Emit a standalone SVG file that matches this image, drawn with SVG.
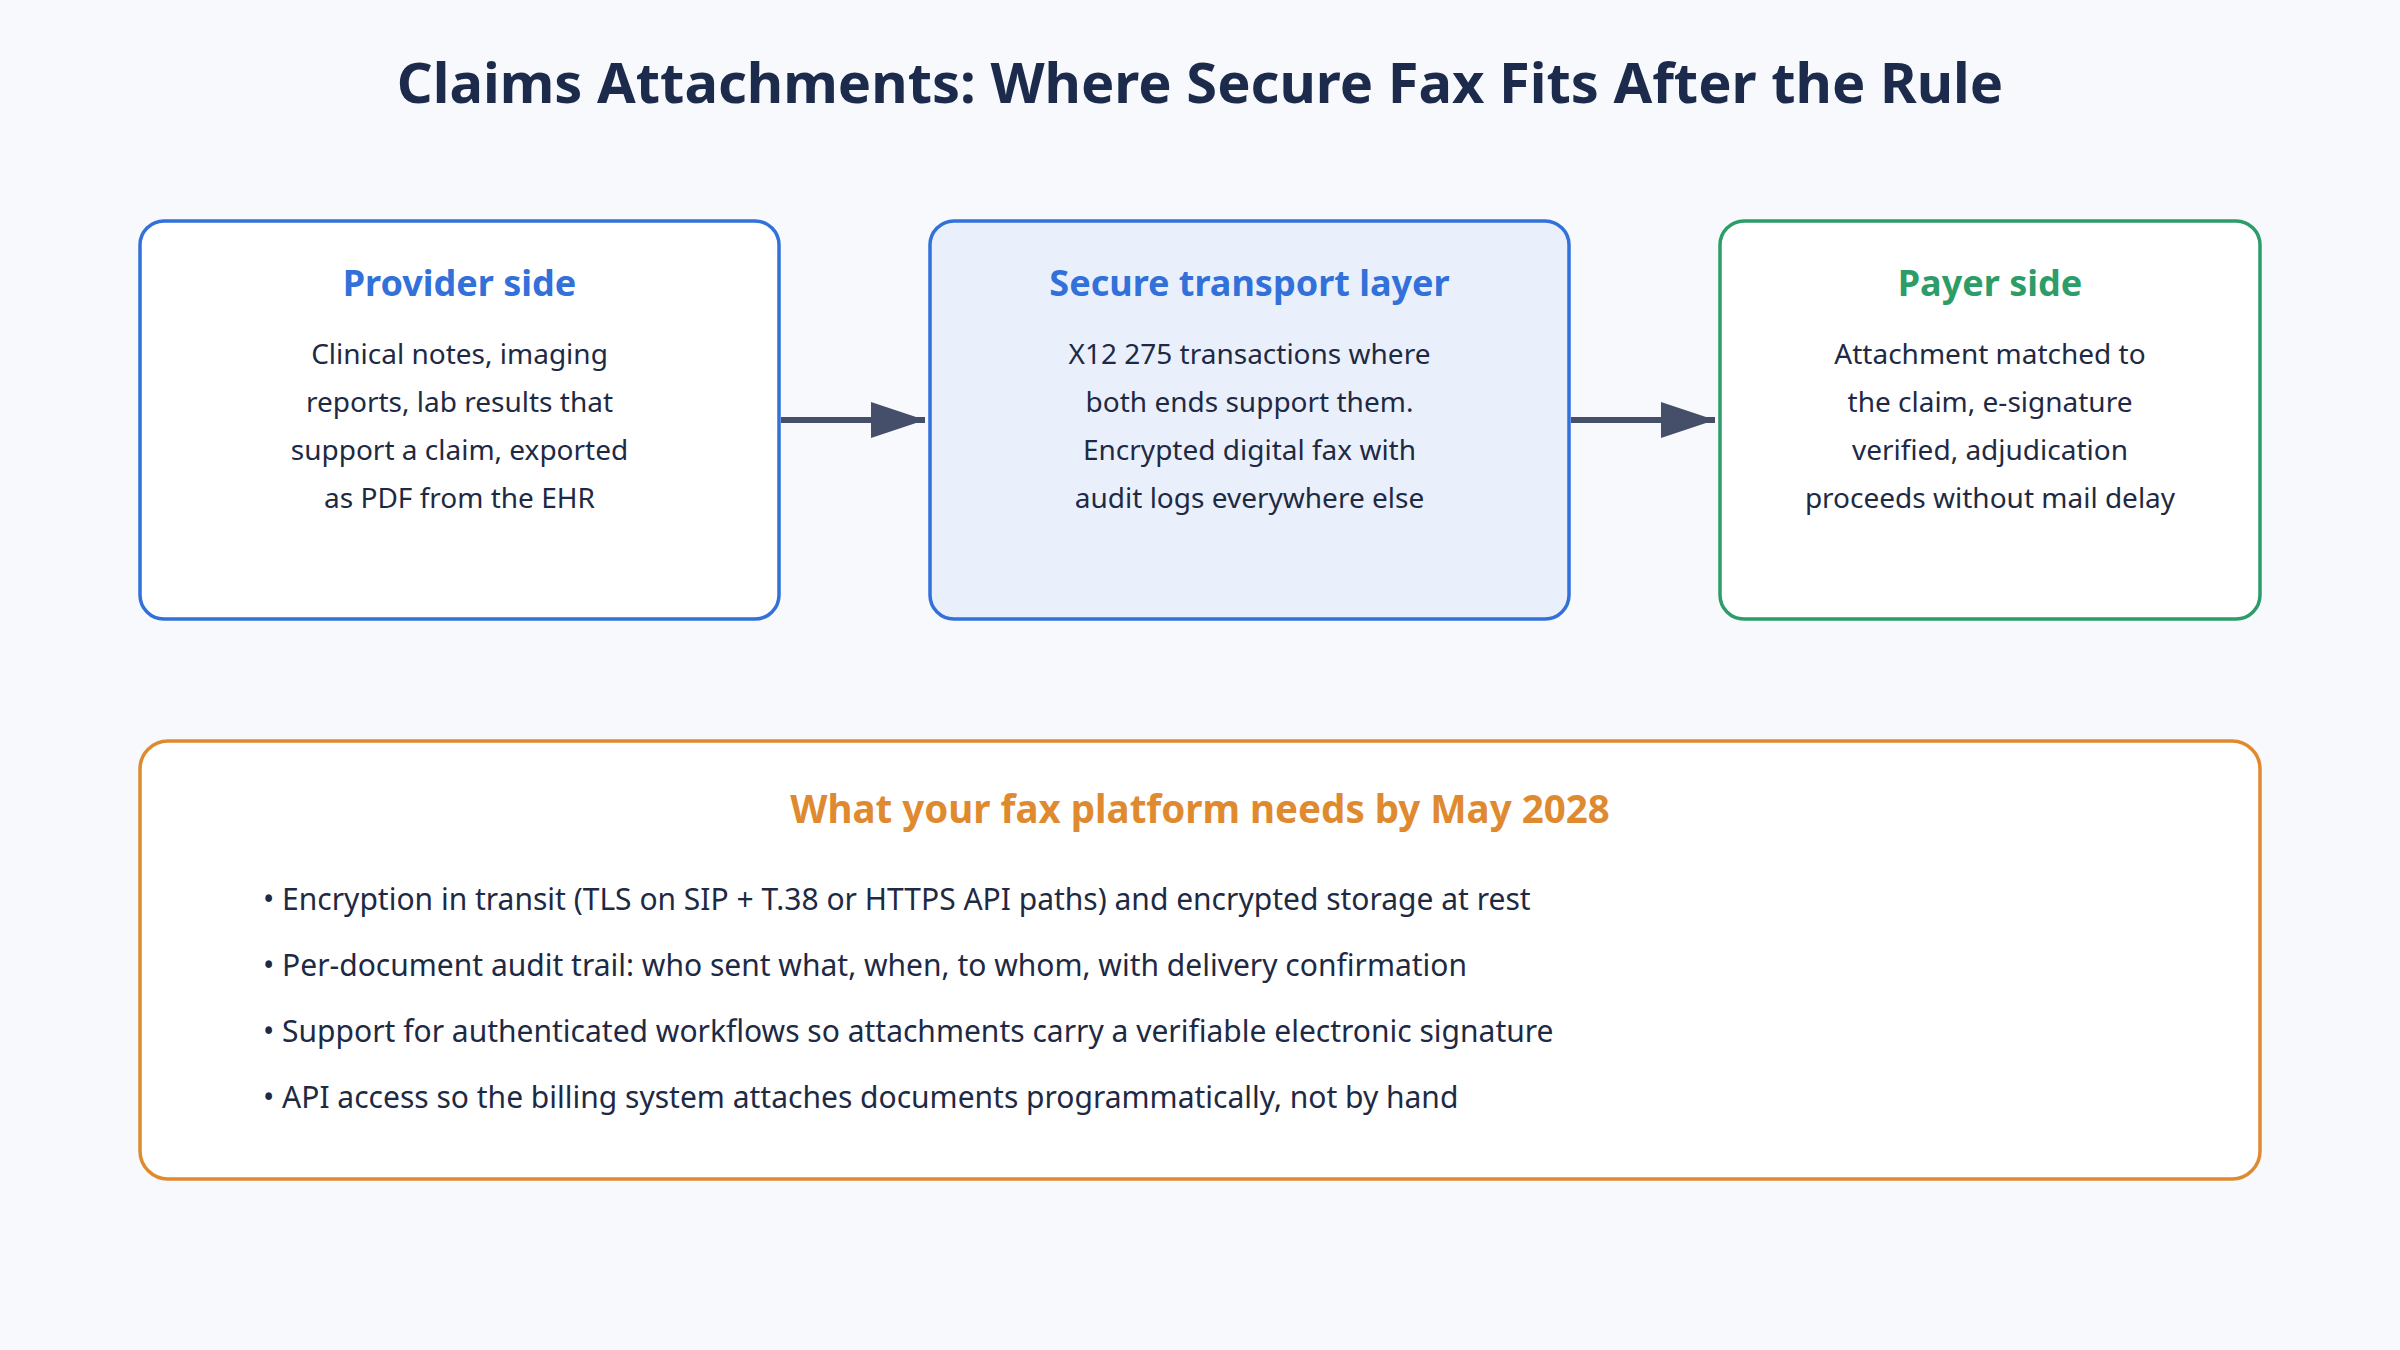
<svg xmlns="http://www.w3.org/2000/svg" width="2400" height="1350" viewBox="0 0 2400 1350">
  <defs>
    <style>
      text { font-family: "Noto Sans", "Open Sans", sans-serif; }
      .title { font-size: 56px; font-weight: 700; fill: #1c2b4b; text-anchor: middle; }
      .head { font-size: 36px; font-weight: 700; text-anchor: middle; }
      .head2 { font-size: 38.5px; font-weight: 700; text-anchor: middle; }
      .body { font-size: 28px; fill: #1e2a44; text-anchor: middle; }
      .bullet { font-size: 30px; fill: #1e2a44; }
      .blue { fill: #3270da; }
      .green { fill: #2c9d69; }
      .orange { fill: #e08a30; }
      .box { stroke-width: 3.5; }
      .conn { stroke: #454f69; stroke-width: 6; fill: none; }
    </style>
    <marker id="arrow" viewBox="0 0 54 36" refX="54" refY="18" markerWidth="54" markerHeight="36" markerUnits="userSpaceOnUse" orient="auto">
      <path d="M0,0 L54,18 L0,36 Z" fill="#454f69"/>
    </marker>
  </defs>
  <rect x="0" y="0" width="2400" height="1350" fill="#f7f9fc"/>
  <text class="title" x="1200" y="103">Claims Attachments: Where Secure Fax Fits After the Rule</text>

  <g id="provider">
    <rect class="box" x="140" y="221" width="639" height="398" rx="24" fill="#ffffff" stroke="#3270da"/>
    <text class="head blue" x="459.5" y="296">Provider side</text>
    <text class="body" x="459.5" y="364">Clinical notes, imaging</text>
    <text class="body" x="459.5" y="412">reports, lab results that</text>
    <text class="body" x="459.5" y="460">support a claim, exported</text>
    <text class="body" x="459.5" y="508">as PDF from the EHR</text>
  </g>

  <g id="transport">
    <rect class="box" x="930" y="221" width="639" height="398" rx="24" fill="#eaf0fb" stroke="#3270da"/>
    <text class="head blue" x="1249.5" y="296">Secure transport layer</text>
    <text class="body" x="1249.5" y="364">X12 275 transactions where</text>
    <text class="body" x="1249.5" y="412">both ends support them.</text>
    <text class="body" x="1249.5" y="460">Encrypted digital fax with</text>
    <text class="body" x="1249.5" y="508">audit logs everywhere else</text>
  </g>

  <g id="payer">
    <rect class="box" x="1720" y="221" width="540" height="398" rx="24" fill="#ffffff" stroke="#2c9d69"/>
    <text class="head green" x="1990" y="296">Payer side</text>
    <text class="body" x="1990" y="364">Attachment matched to</text>
    <text class="body" x="1990" y="412">the claim, e-signature</text>
    <text class="body" x="1990" y="460">verified, adjudication</text>
    <text class="body" x="1990" y="508">proceeds without mail delay</text>
  </g>

  <g id="connectors">
    <line class="conn" x1="781" y1="420" x2="925" y2="420" marker-end="url(#arrow)"/>
    <line class="conn" x1="1571" y1="420" x2="1715" y2="420" marker-end="url(#arrow)"/>
  </g>

  <g id="requirements">
    <rect class="box" x="140" y="741" width="2120" height="438" rx="28" fill="#ffffff" stroke="#e08a30"/>
    <text class="head2 orange" x="1200" y="823">What your fax platform needs by May 2028</text>
    <text class="bullet" x="263" y="910">• Encryption in transit (TLS on SIP + T.38 or HTTPS API paths) and encrypted storage at rest</text>
    <text class="bullet" x="263" y="976">• Per-document audit trail: who sent what, when, to whom, with delivery confirmation</text>
    <text class="bullet" x="263" y="1042">• Support for authenticated workflows so attachments carry a verifiable electronic signature</text>
    <text class="bullet" x="263" y="1108">• API access so the billing system attaches documents programmatically, not by hand</text>
  </g>
</svg>
